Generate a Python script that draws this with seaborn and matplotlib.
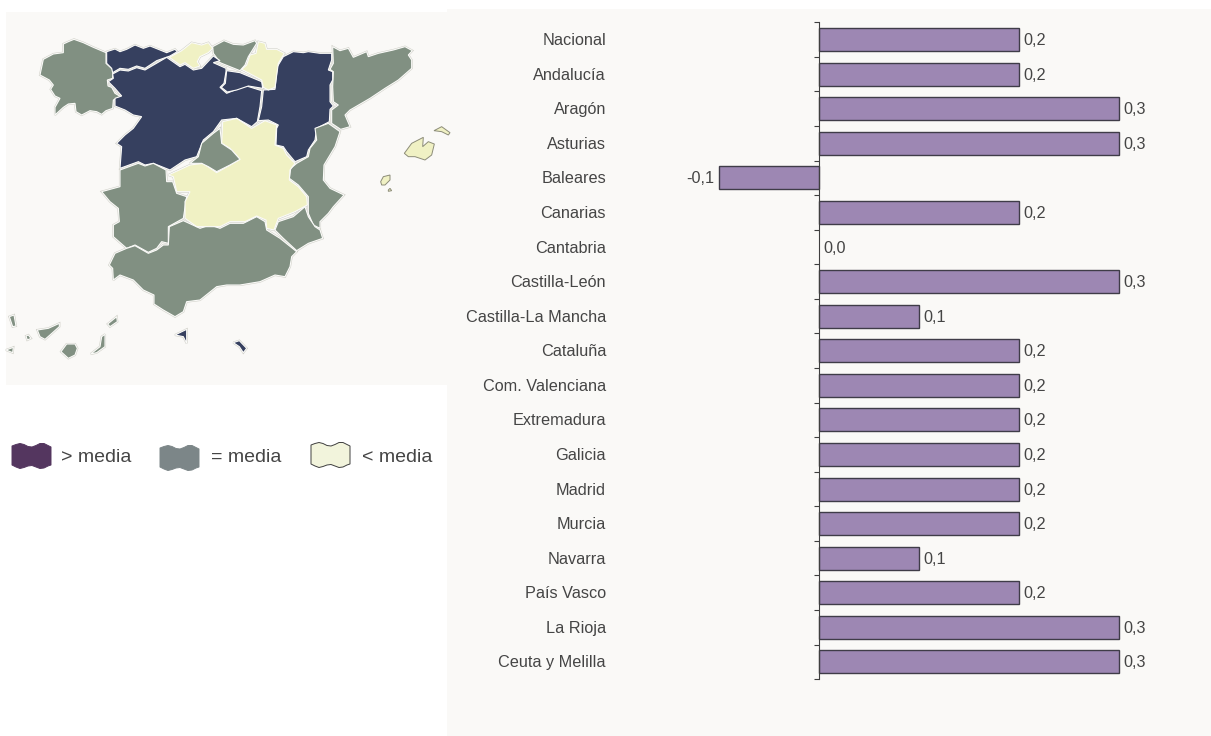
import matplotlib
matplotlib.use('Agg')
import matplotlib.pyplot as plt
import seaborn as sns
from matplotlib.patches import Polygon

# ==========================================
# 1. DATA
# ==========================================
regiones = ['Nacional', 'Andalucía', 'Aragón', 'Asturias', 'Baleares', 'Canarias', 'Cantabria',
            'Castilla-León', 'Castilla-La Mancha', 'Cataluña', 'Com. Valenciana', 'Extremadura',
            'Galicia', 'Madrid', 'Murcia', 'Navarra', 'País Vasco', 'La Rioja', 'Ceuta y Melilla']
valores = [0.2, 0.2, 0.3, 0.3, -0.1, 0.2, 0.0, 0.3, 0.1, 0.2, 0.2, 0.2, 0.2, 0.2, 0.2, 0.1, 0.2, 0.3, 0.3]

leyenda_textos = ['> media', '= media', '< media']

# map outlines
galicia = [(190,132),(205,125),(222,118),(250,128),(280,142),(318,158),(318,190),(338,208),(338,235),(322,240),(324,258),(335,262),(345,280),(362,290),(340,300),(338,325),(318,332),(305,343),(290,335),(270,332),(245,345),(228,335),(225,310),(205,312),(190,322),(165,345),(165,322),(180,295),(165,288),(152,268),(160,255),(148,240),(120,225),(130,178),(160,162),(190,158)]
asturias = [(320,155),(345,147),(360,155),(380,148),(405,135),(430,145),(450,138),(475,148),(500,158),(525,148),(532,155),(510,168),(470,182),(435,205),(410,198),(385,208),(360,205),(338,218),(335,205),(320,190)]
cantabria = [(508,172),(545,152),(575,128),(605,135),(625,128),(638,145),(625,158),(600,170),(592,185),(600,198),(580,205),(555,188),(540,195)]
pais_vasco = [(638,140),(672,122),(700,133),(730,135),(765,122),(770,130),(745,170),(735,195),(720,212),(665,190),(640,178),(655,180),(640,160)]
navarra = [(775,125),(795,130),(800,148),(830,148),(853,160),(835,190),(825,262),(805,270),(790,262),(785,240),(725,208),(740,195),(750,165),(768,160)]
aragon = [(850,170),(880,155),(910,158),(925,155),(960,160),(995,160),(995,180),(985,210),(998,215),(998,240),(990,255),(990,305),(1000,318),(990,328),(988,365),(950,385),(945,420),(925,450),(920,470),(885,485),(860,455),(850,440),(828,435),(830,385),(835,375),(805,360),(775,362),(785,320),(790,270),(825,268),(832,200)]
cataluna = [(998,140),(1020,152),(1045,145),(1060,172),(1100,155),(1105,170),(1135,160),(1180,150),(1215,140),(1237,152),(1225,165),(1235,180),(1235,205),(1195,240),(1155,265),(1110,295),(1050,330),(1035,345),(1050,380),(1022,388),(995,370),(995,330),(1015,315),(1000,305),(998,260),(1000,215),(990,208),(1000,190)]
castilla_leon = [(338,222),(360,210),(385,213),(410,203),(435,210),(500,172),(540,200),(555,193),(580,210),(605,205),(640,168),(660,182),(640,188),(678,205),(678,215),(672,250),(660,262),(680,280),(710,268),(740,258),(785,272),(780,320),(772,365),(755,380),(710,355),(665,360),(640,395),(610,420),(590,470),(555,480),(510,510),(460,490),(435,495),(415,485),(360,505),(365,440),(350,430),(375,405),(400,385),(425,350),(400,345),(375,330),(345,318),(345,295),(365,288),(345,265),(325,245),(340,235)]
rioja = [(680,212),(720,218),(785,245),(788,265),(745,258),(710,270),(682,276),(664,262),(676,250)]
madrid = [(660,385),(665,430),(695,450),(720,478),(690,495),(650,515),(625,500),(605,490),(570,490),(595,470),(605,430),(640,400)]
mancha = [(668,365),(710,355),(755,385),(795,362),(830,375),(825,435),(850,445),(860,465),(885,490),(870,510),(868,540),(895,560),(920,590),(922,615),(885,635),(835,655),(822,690),(800,685),(798,660),(770,648),(735,665),(690,665),(660,680),(620,680),(590,680),(555,655),(555,605),(570,575),(530,575),(520,530),(505,525),(570,495),(610,490),(650,518),(720,478),(690,445),(665,430)]
extremadura = [(360,510),(415,490),(435,498),(460,490),(498,510),(500,545),(518,545),(530,580),(560,590),(550,655),(505,680),(505,730),(485,725),(470,745),(445,757),(405,735),(380,745),(340,710),(340,675),(358,665),(355,625),(330,605),(305,575),(360,560)]
andalucia = [(550,662),(600,685),(630,675),(660,685),(690,670),(730,670),(770,650),(795,665),(800,690),(840,715),(890,755),(875,770),(870,800),(855,830),(825,825),(780,845),(720,855),(680,855),(650,860),(625,880),(600,900),(560,905),(550,935),(525,950),(490,930),(462,912),(462,885),(430,870),(400,840),(360,825),(340,840),(338,805),(328,795),(345,760),(380,745),(405,737),(445,760),(470,750),(490,735),(505,735),(508,680)]
murcia = [(825,690),(835,665),(880,650),(915,620),(925,650),(945,680),(960,690),(968,715),(925,730),(890,752),(850,715)]
valencia = [(985,370),(1020,395),(1005,440),(990,465),(972,495),(970,540),(990,565),(1032,585),(1000,620),(985,640),(960,665),(960,685),(940,675),(925,640),(925,590),(895,555),(868,535),(872,505),(890,490),(925,470),(930,445),(950,420),(945,385)]
mallorca = [(1213,460),(1235,430),(1270,412),(1268,440),(1285,425),(1303,432),(1295,465),(1275,480),(1245,470),(1225,470)]
menorca = [(1302,392),(1325,380),(1350,398),(1345,405),(1325,395)]
ibiza = [(1142,545),(1150,530),(1170,525),(1170,540),(1155,555),(1145,555)]
formentera = [(1165,570),(1170,565),(1175,572),(1165,574)]
gran_canaria = [(183,1055),(200,1032),(225,1032),(232,1045),(225,1065),(205,1075)]
tenerife = [(112,990),(145,985),(178,970),(178,980),(150,1005),(135,1018),(120,1010)]
la_palma = [(28,950),(42,945),(48,978),(38,980)]
gomera = [(78,1008),(85,1005),(93,1015),(82,1020)]
hierro = [(18,1050),(40,1042),(38,1058)]
fuerteventura = [(272,1062),(300,1040),(305,1010),(315,1003),(315,1040),(290,1058)]
lanzarote = [(323,972),(350,950),(352,965),(330,980)]
ceuta = [(525,1005),(560,988),(560,1030),(550,1010)]
melilla = [(700,1028),(718,1022),(740,1045),(730,1058),(718,1040)]

swatch = [(0,3),(4,1.5),(8,0.5),(12,1.5),(16,3.5),(20,4),(24,2.5),(28,0.5),(32,0.5),(36,2.5),(39,4),
          (39,22),(36,23),(32,25),(28,25.5),(24,24),(20,22.5),(16,23),(12,24.5),(8,25.5),(4,24),(0,22)]

NAVY = '#36405F'
GREEN = '#819082'
CREAM = '#F0F1C4'
BG = '#FAF9F7'
TXT = '#454545'

mapa = [(galicia, GREEN), (asturias, NAVY), (pais_vasco, GREEN), (cantabria, CREAM), (cataluna, GREEN),
        (castilla_leon, NAVY), (rioja, NAVY), (aragon, NAVY), (navarra, CREAM), (extremadura, GREEN),
        (andalucia, GREEN), (valencia, GREEN), (murcia, GREEN), (mancha, CREAM), (madrid, GREEN),
        (gran_canaria, GREEN), (tenerife, GREEN), (la_palma, GREEN), (gomera, GREEN), (hierro, GREEN),
        (fuerteventura, GREEN), (lanzarote, GREEN), (ceuta, NAVY), (melilla, NAVY)]
islas_claras = [mallorca, menorca, ibiza, formentera]

# ==========================================
# 2. FIGURE
# ==========================================
sns.set_theme(style='white')
plt.rcParams['font.family'] = ['Liberation Sans', 'DejaVu Sans']
W, H = 1211, 736
fig = plt.figure(figsize=(W / 100, H / 100), dpi=100, facecolor='white')


def box(x0, y0, x1, y1):
    return [x0 / W, 1 - y1 / H, (x1 - x0) / W, (y1 - y0) / H]


# bars
ax = fig.add_axes(box(447, 9, 1211, 736), facecolor=BG)
sns.barplot(x=valores, y=regiones, color='#9D87B3', saturation=1, width=0.665,
            edgecolor='#3f3c48', linewidth=1.0, ax=ax)
ax.patches[6].set_linewidth(0)
ax.set_xlim((447 - 819) / 1000, (1211 - 819) / 1000)
ax.set_ylim((736 - 39.5) / 34.58, (9 - 39.5) / 34.58)
for s in ['top', 'right', 'bottom']:
    ax.spines[s].set_visible(False)
ax.spines['left'].set_position(('data', 0))
ax.spines['left'].set_bounds(-0.5, 18.5)
ax.spines['left'].set_color('#3f3f3f')
ax.spines['left'].set_linewidth(0.8)
ax.set_yticks([i - 0.5 for i in range(20)])
ax.set_yticklabels([])
ax.tick_params(axis='y', left=True, length=3.6, width=0.8, color='#3f3f3f')
ax.set_xticks([])
for i, (r, v) in enumerate(zip(regiones, valores)):
    ax.text(-0.213, i + 0.03, r, ha='right', va='center', fontsize=11.7, color=TXT)
    etiqueta = f'{v:.1f}'.replace('.', ',')
    if v < 0:
        ax.annotate(etiqueta, xy=(v, i + 0.03), xytext=(-3.5, 0), textcoords='offset points', ha='right',
                    va='center', fontsize=11.7, color=TXT)
    else:
        ax.annotate(etiqueta, xy=(v, i + 0.03), xytext=(3.5, 0), textcoords='offset points', ha='left',
                    va='center', fontsize=11.7, color=TXT)

# map, in units of 1/3 pixel
ax_map = fig.add_axes(box(6, 12, 447, 385), facecolor=BG)
ax_map.set_xlim(18, 1341)
ax_map.set_ylim(1155, 36)
ax_map.set_xticks([])
ax_map.set_yticks([])
for s in ax_map.spines.values():
    s.set_visible(False)
for forma, color in mapa:
    ax_map.add_patch(Polygon(forma, closed=True, facecolor=color, edgecolor='#d0d0c8', linewidth=1.5,
                             joinstyle='miter', clip_on=False))
for forma, color in mapa:
    ax_map.add_patch(Polygon(forma, closed=True, facecolor=color, edgecolor='#fbfbf9', linewidth=0.8,
                             joinstyle='miter', clip_on=False))
for forma in islas_claras:
    ax_map.add_patch(Polygon(forma, closed=True, facecolor=CREAM, edgecolor='#8c8c78', linewidth=0.7,
                             clip_on=False, zorder=5))

# legend
ax_ley = fig.add_axes(box(0, 420, 447, 490), facecolor='none')
ax_ley.set_xlim(0, 447)
ax_ley.set_ylim(490, 420)
ax_ley.axis('off')
ley = [(12, 443, '#54365F', '#54365F', 61), (160, 445, '#7C8688', '#7C8688', 211), (311, 442, '#F2F4DC', '#3f3f3f', 362)]
for (x0, y0, cf, ce, xt), t in zip(ley, leyenda_textos):
    pts = [(x0 + px, y0 + py) for px, py in swatch]
    ax_ley.add_patch(Polygon(pts, closed=True, facecolor=cf, edgecolor=ce, linewidth=0.7))
    ax_ley.text(xt, 457.5, t, ha='left', va='center', fontsize=14, color=TXT)

fig.savefig('out.png', dpi=100)
